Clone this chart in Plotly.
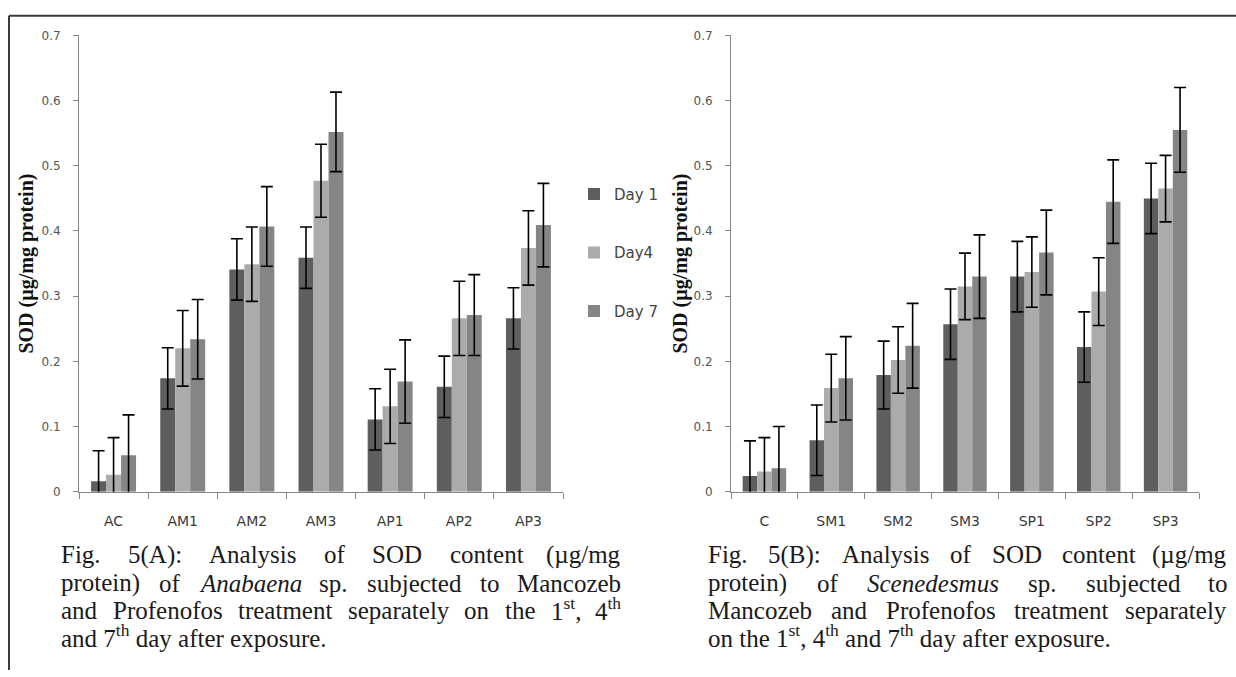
import re
import plotly.graph_objects as go

W, H = 1236, 677

# ---------------- data ----------------
series_names = ["Day 1", "Day4", "Day 7"]

cats_A = ["AC", "AM1", "AM2", "AM3", "AP1", "AP2", "AP3"]
day1_A = [0.016, 0.174, 0.341, 0.359, 0.111, 0.161, 0.266]
day4_A = [0.026, 0.220, 0.349, 0.477, 0.131, 0.266, 0.374]
day7_A = [0.056, 0.234, 0.407, 0.552, 0.169, 0.271, 0.409]
err1_A = [0.047, 0.047, 0.047, 0.047, 0.047, 0.047, 0.047]
err4_A = [0.057, 0.058, 0.057, 0.056, 0.057, 0.057, 0.057]
err7_A = [0.062, 0.061, 0.061, 0.061, 0.064, 0.062, 0.064]

cats_B = ["C", "SM1", "SM2", "SM3", "SP1", "SP2", "SP3"]
day1_B = [0.024, 0.079, 0.179, 0.257, 0.330, 0.222, 0.450]
day4_B = [0.031, 0.159, 0.202, 0.315, 0.337, 0.307, 0.465]
day7_B = [0.036, 0.174, 0.224, 0.330, 0.367, 0.445, 0.555]
err1_B = [0.054, 0.054, 0.052, 0.054, 0.054, 0.054, 0.054]
err4_B = [0.052, 0.052, 0.051, 0.051, 0.054, 0.052, 0.051]
err7_B = [0.064, 0.064, 0.065, 0.064, 0.065, 0.064, 0.065]

y_ticks = [0, 0.1, 0.2, 0.3, 0.4, 0.5, 0.6, 0.7]
y_title = "SOD (µg/mg protein)"

cap_A_lines = [
    ["Fig.", "5(A):", "Analysis", "of", "SOD", "content", "(µg/mg"],
    ["protein)", "of", "<i>Anabaena</i>", "sp.", "subjected", "to", "Mancozeb"],
    ["and", "Profenofos", "treatment", "separately", "on", "the", "1<sup>st</sup>,", "4<sup>th</sup>"],
]
cap_A_last = "and 7<sup>th</sup> day after exposure."
cap_B_lines = [
    ["Fig.", "5(B):", "Analysis", "of", "SOD", "content", "(µg/mg"],
    ["protein)", "of", "<i>Scenedesmus</i>", "sp.", "subjected", "to"],
    ["Mancozeb", "and", "Profenofos", "treatment", "separately"],
]
cap_B_last = "on the 1<sup>st</sup>, 4<sup>th</sup> and 7<sup>th</sup> day after exposure."

# ---------------- styling ----------------
colors = ["#5e5e5e", "#ababab", "#858585"]
AXC = "#868686"


def px(x):
    return x / W


def py(y):
    return 1 - y / H


fig = go.Figure()

for i, (vals_A, errs_A, vals_B, errs_B) in enumerate(
    [(day1_A, err1_A, day1_B, err1_B), (day4_A, err4_A, day4_B, err4_B), (day7_A, err7_A, day7_B, err7_B)]
):
    eb = dict(color="black", thickness=1.6, width=6)
    fig.add_trace(go.Bar(
        x=cats_A, y=vals_A, name=series_names[i], marker=dict(color=colors[i], line=dict(width=0)),
        error_y=dict(type="data", array=errs_A, **eb), xaxis="x", yaxis="y",
        legendgroup=series_names[i], showlegend=True,
    ))
    fig.add_trace(go.Bar(
        x=cats_B, y=vals_B, name=series_names[i], marker=dict(color=colors[i], line=dict(width=0)),
        error_y=dict(type="data", array=errs_B, **eb), xaxis="x2", yaxis="y2",
        legendgroup=series_names[i], showlegend=False,
    ))

yaxis_common = dict(
    range=[0, 0.7], tickvals=y_ticks, ticks="outside", ticklen=5, tickcolor=AXC,
    showline=True, linecolor=AXC, linewidth=1, showgrid=False, zeroline=False,
    tickfont=dict(family="DejaVu Sans", size=12, color="#555555"),
    ticklabelstandoff=10,
    domain=[py(495), py(29)],
)
xaxis_common = dict(
    type="category", ticks="outside", tickson="boundaries", ticklen=6, tickcolor=AXC,
    showline=True, linecolor=AXC, linewidth=1, showgrid=False, zeroline=False,
    tickfont=dict(family="DejaVu Sans", size=14, color="#3a3a3a"),
    ticklabelstandoff=16,
)

fig.update_layout(
    width=W, height=H,
    margin=dict(l=0, r=0, t=0, b=0),
    paper_bgcolor="white", plot_bgcolor="white",
    barmode="group", bargap=0.35, bargroupgap=0,
    xaxis=dict(domain=[px(79), px(563)], anchor="y", **xaxis_common),
    yaxis=dict(anchor="x", **yaxis_common),
    xaxis2=dict(domain=[px(731), px(1199)], anchor="y2", **xaxis_common),
    yaxis2=dict(anchor="x2", **yaxis_common),
    legend=dict(
        x=px(574), y=py(251), xanchor="left", yanchor="middle",
        font=dict(family="DejaVu Sans", size=15, color="#444444"),
        tracegroupgap=36, itemwidth=30, bgcolor="rgba(0,0,0,0)",
    ),
    showlegend=True,
)

# frame lines (top and left)
fig.add_shape(type="line", xref="paper", yref="paper", x0=px(9), x1=1, y0=py(9), y1=py(9),
              line=dict(color="#3a3a3a", width=2))
fig.add_shape(type="line", xref="paper", yref="paper", x0=px(9), x1=px(9), y0=py(9), y1=0,
              line=dict(color="#3a3a3a", width=2))

# y-axis titles
for xc in (27, 681):
    fig.add_annotation(xref="paper", yref="paper", x=px(xc), y=py(262), showarrow=False,
                       xanchor="center", yanchor="middle",
                       text="<b>" + y_title + "</b>", textangle=-90,
                       font=dict(family="Liberation Serif", size=20, color="#111111"))

# ---------------- captions (justified) ----------------
TW = {' ': 250, '(': 333, ')': 333, ',': 250, '.': 250, '/': 278, ':': 278, 'µ': 500,
      'A': 722, 'B': 667, 'C': 667, 'D': 722, 'F': 556, 'M': 889, 'O': 722, 'P': 556, 'S': 556,
      'a': 444, 'b': 500, 'c': 444, 'd': 500, 'e': 444, 'f': 333, 'g': 500, 'h': 500, 'i': 278,
      'j': 278, 'l': 278, 'm': 778, 'n': 500, 'o': 500, 'p': 500, 'r': 333, 's': 389, 't': 278,
      'u': 500, 'x': 500, 'y': 500, 'z': 444}
TI = {'A': 611, 'S': 500, 'a': 500, 'b': 500, 'c': 444, 'd': 500, 'e': 444, 'm': 722, 'n': 500,
      's': 389, 'u': 500}
CAP_SIZE = 25
CAP_FONT = dict(family="Liberation Serif", size=CAP_SIZE, color="#1a1a1a")


def text_width(html, size):
    total = 0.0
    sup = ital = False
    for tok in re.split(r'(<[^>]+>)', html):
        if tok.startswith('<'):
            t = tok.lower()
            if t == '<sup>':
                sup = True
            elif t == '</sup>':
                sup = False
            elif t == '<i>':
                ital = True
            elif t == '</i>':
                ital = False
            continue
        for ch in tok:
            w = TI.get(ch) if ital and ch in TI else TW.get(ch, 500)
            total += w * (0.7 if sup else 1.0)
    return total / 1000.0 * size


def add_word(text, x, yc, anchor):
    adj = 2 if "<sup>" in text else 0
    fig.add_annotation(xref="paper", yref="paper", x=px(x), y=py(yc - adj), showarrow=False,
                       text=text, xanchor=anchor, yanchor="middle", font=CAP_FONT, borderpad=0)


def add_caption(lines, last, x0, x1, baselines):
    for words, base in zip(lines, baselines):
        yc = base - 0.34 * CAP_SIZE
        widths = [text_width(w, CAP_SIZE) for w in words]
        gap = (x1 - x0 - sum(widths)) / (len(words) - 1)
        x = x0
        for k, (w, wd) in enumerate(zip(words, widths)):
            if k == len(words) - 1:
                add_word(w, x1, yc, "right")
            else:
                add_word(w, x, yc, "left")
            x += wd + gap
    yc = baselines[-1] - 0.34 * CAP_SIZE
    add_word(last, x0, yc, "left")


baselines = [568, 597, 625, 653]
add_caption(cap_A_lines, cap_A_last, 60, 622, baselines)
add_caption(cap_B_lines, cap_B_last, 707, 1228, baselines)

fig.write_html("out.html")
